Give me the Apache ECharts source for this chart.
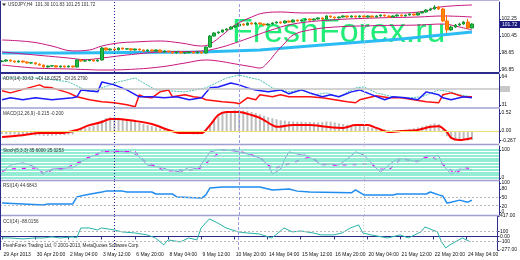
<!DOCTYPE html>
<html><head><meta charset="utf-8">
<script src="https://cdn.jsdelivr.net/npm/echarts@6/dist/echarts.min.js"></script>
<style>html,body{margin:0;padding:0;background:#fff}#c{width:520px;height:260px}</style>
</head><body><div id="c"></div>
<script>
const xTickLabels = ['29 Apr 2013','30 Apr 20:00','2 May 04:00','3 May 12:00','6 May 20:00','8 May 04:00','9 May 12:00','10 May 20:00','14 May 04:00','15 May 12:00','16 May 20:00','20 May 04:00','21 May 12:00','22 May 20:00','24 May 04:00'];
// [open, close, low, high]
const ohlc = [
[97.75,97.80,97.68,97.88],[97.80,97.91,97.74,97.98],[97.91,97.80,97.73,97.95],[97.80,97.70,97.62,97.84],[97.70,97.80,97.66,97.86],
[97.80,97.70,97.63,97.85],[97.70,97.59,97.52,97.74],[97.59,97.62,97.50,97.70],[97.62,97.49,97.42,97.66],[97.49,97.38,97.30,97.55],
[97.38,97.17,97.10,97.42],[97.17,97.27,97.12,97.33],[97.27,97.30,97.20,97.38],[97.30,97.17,97.11,97.35],[97.17,97.27,97.12,97.33],
[97.27,97.17,97.10,97.31],[97.17,97.27,97.13,97.34],[97.27,97.17,97.10,97.30],[97.17,97.91,97.12,98.00],[97.91,97.80,97.72,97.98],
[97.80,97.84,97.74,97.92],[97.84,97.91,97.78,97.98],[97.91,97.80,97.73,97.96],[97.80,97.91,97.75,97.97],[97.91,99.18,97.86,99.30],
[99.18,98.97,98.90,99.25],[98.97,99.07,98.92,99.15],[99.07,98.97,98.90,99.12],[98.97,99.18,98.93,99.25],[99.18,99.07,99.00,99.23],
[99.07,99.10,99.00,99.17],[99.10,98.97,98.90,99.15],[98.97,99.07,98.92,99.13],[99.07,98.97,98.90,99.11],[98.97,98.86,98.78,99.02],
[98.86,98.97,98.81,99.03],[98.97,98.86,98.79,99.01],[98.86,98.97,98.82,99.03],[98.97,98.76,98.69,99.01],[98.76,98.86,98.71,98.92],
[98.86,98.76,98.69,98.90],[98.76,98.65,98.58,98.80],[98.65,98.76,98.60,98.82],[98.76,98.65,98.58,98.80],[98.65,98.68,98.58,98.75],
[98.68,98.76,98.62,98.82],[98.76,98.65,98.58,98.80],[98.65,98.76,98.60,98.82],[98.76,98.65,98.58,98.80],[98.65,99.28,98.60,99.35],
[99.28,100.45,99.22,100.55],[100.45,100.77,100.38,100.85],[100.77,100.87,100.70,100.95],[100.87,101.09,100.80,101.15],[101.09,101.19,101.02,101.27],
[101.19,101.40,101.12,101.47],[101.40,101.51,101.33,101.58],[101.51,101.72,101.45,101.80],[101.72,101.61,101.54,101.78],[101.61,101.83,101.55,101.90],
[101.83,101.72,101.65,101.88],[101.72,101.83,101.66,101.90],[101.83,101.72,101.65,101.88],[101.72,101.61,101.54,101.77],[101.61,101.72,101.56,101.79],
[101.72,101.83,101.66,101.90],[101.83,101.93,101.77,102.00],[101.93,101.83,101.76,101.98],[101.83,102.04,101.78,102.10],[102.04,101.93,101.86,102.09],
[101.93,102.14,101.88,102.21],[102.14,102.04,101.97,102.19],[102.04,102.14,101.98,102.21],[102.14,102.25,102.08,102.32],[102.25,102.14,102.07,102.30],
[102.14,102.25,102.09,102.31],[102.25,102.36,102.19,102.42],[102.36,102.25,102.18,102.41],[102.25,102.57,102.20,102.64],[102.57,102.46,102.39,102.62],
[102.46,102.36,102.29,102.51],[102.36,102.46,102.31,102.52],[102.46,102.57,102.40,102.63],[102.57,102.46,102.39,102.62],[102.46,102.57,102.41,102.63],
[102.57,102.46,102.40,102.61],[102.46,102.57,102.40,102.64],[102.57,102.46,102.39,102.62],[102.46,102.57,102.41,102.63],[102.57,102.46,102.40,102.61],
[102.46,102.57,102.41,102.64],[102.57,102.67,102.51,102.74],[102.67,102.57,102.50,102.72],[102.57,102.46,102.39,102.62],[102.46,102.57,102.41,102.63],
[102.57,102.67,102.50,102.74],[102.67,102.57,102.50,102.72],[102.57,102.67,102.51,102.73],[102.67,102.78,102.61,102.85],[102.78,102.67,102.60,102.83],
[102.67,102.89,102.62,102.96],[102.89,102.99,102.83,103.08],[102.99,103.20,102.93,103.30],[103.20,103.31,103.12,103.45],[103.31,103.52,103.25,103.70],
[103.52,103.31,103.20,103.60],[103.31,102.04,101.93,103.45],[102.04,101.09,100.77,102.67],[101.09,101.40,101.00,101.55],[101.40,101.61,101.30,101.72],
[101.61,101.72,101.50,101.85],[101.72,101.93,101.65,102.04],[101.93,101.30,101.20,102.25],[101.30,101.72,101.25,101.80]
];
const bbUpper = [[0,100.03],[7,99.82],[12,99.39],[17,98.87],[21,98.97],[24,99.39],[28,99.71],[32,99.82],[38,99.92],[43,99.71],[48,99.39],[50,99.60],[53,100.56],[56,101.61],[60,102.46],[63,102.89],[67,102.99],[72,102.89],[79,102.89],[86,102.99],[96,102.89],[102,103.10],[104,103.42],[108,103.63],[113,103.73]];
const bbMiddle = [[0,98.76],[8,98.44],[16,98.12],[20,97.95],[24,98.12],[30,98.44],[38,98.76],[48,98.86],[52,99.18],[56,99.71],[60,100.34],[64,100.98],[70,101.72],[79,102.14],[90,102.36],[100,102.46],[106,102.57],[113,102.46]];
const bbLower = [[0,97.38],[8,97.06],[16,96.96],[20,96.90],[24,96.85],[30,96.90],[38,97.17],[44,97.59],[49,97.91],[52,97.80],[56,97.50],[60,97.20],[62,97.06],[64,97.70],[66,98.76],[68,99.70],[70,100.56],[74,101.09],[80,101.40],[90,101.55],[100,101.61],[106,101.72],[110,101.40],[113,101.09]];
const trendMA = [[0,98.65],[15,98.65],[30,98.70],[48,98.76],[62,98.97],[77,99.50],[96,100.14],[113,100.87]];
const priceTicks = [102.25, 100.45, 98.65, 96.85];

const adxMinusDI = [[0,47.7],[2,45.3],[9,54.7],[10,52.3],[12,51.2],[16,45.3],[18,40.7],[21,37.2],[24,34.8],[27,33.7],[30,31.3],[32,29.0],[33,43.0],[34,40.7],[36,39.5],[38,46.5],[40,48.8],[41,40.7],[44,43.0],[46,40.7],[48,39.5],[49,37.2],[53,34.8],[56,33.7],[57,32.5],[59,39.5],[61,37.2],[62,43.0],[65,40.7],[67,43.0],[69,40.7],[74,40.7],[77,39.5],[80,37.2],[83,34.8],[85,33.7],[86,37.2],[89,40.7],[90,41.8],[93,39.5],[96,39.5],[99,37.2],[102,34.8],[105,33.7],[106,43.0],[108,45.3],[111,40.7],[113,40.7]];
const adxPlusDI = [[0,37.2],[2,39.5],[5,37.2],[8,39.5],[12,37.2],[17,39.5],[18,40.7],[19,48.8],[23,46.5],[24,58.2],[27,54.7],[30,48.8],[33,40.7],[36,40.7],[39,39.5],[42,40.7],[45,37.2],[48,39.5],[50,51.2],[52,52.3],[55,57.0],[57,54.7],[59,51.2],[61,48.8],[64,46.5],[67,48.8],[69,44.2],[72,48.8],[74,45.3],[77,40.7],[79,43.0],[81,40.7],[84,46.5],[86,48.8],[89,43.0],[92,37.2],[94,40.7],[97,39.5],[100,37.2],[102,46.5],[105,43.0],[106,39.5],[108,37.2],[111,40.7],[113,39.5]];
const adxMain = [[0,62.8],[5,62.8],[9,62.8],[16,58.2],[21,46.5],[24,51.2],[28,58.2],[32,62.8],[34,57.0],[37,48.8],[44,46.5],[49,51.2],[54,62.8],[57,66.3],[60,62.8],[62,60.5],[65,51.2],[69,46.5],[72,48.8],[75,43.0],[78,45.3],[81,40.7],[85,51.2],[87,52.3],[90,45.3],[94,40.7],[98,39.5],[101,40.7],[105,48.8],[108,46.5],[110,43.0],[113,40.7]];
const adxTicks = [64, 50, 31];

const macdHist = [-0.08,-0.09,-0.1,-0.1,-0.11,-0.11,-0.12,-0.12,-0.13,-0.13,-0.14,-0.14,-0.13,-0.13,-0.12,-0.12,-0.11,-0.1,0.03,0.06,0.08,0.12,0.15,0.2,0.32,0.37,0.4,0.4,0.38,0.36,0.33,0.3,0.27,0.24,0.2,0.17,0.14,0.11,0.07,0.04,0.01,-0.03,-0.05,-0.07,-0.08,-0.09,-0.1,-0.1,-0.09,-0.02,0.15,0.3,0.42,0.5,0.55,0.58,0.6,0.6,0.59,0.58,0.55,0.52,0.48,0.44,0.4,0.37,0.34,0.31,0.3,0.28,0.28,0.27,0.27,0.26,0.26,0.25,0.25,0.26,0.28,0.27,0.25,0.22,0.2,0.18,0.17,0.17,0.16,0.14,0.12,0.1,0.08,0.07,0.05,0.03,0.02,0.02,0.03,0.04,0.06,0.08,0.1,0.13,0.16,0.19,0.22,0.2,0.05,-0.15,-0.22,-0.25,-0.26,-0.25,-0.27,-0.26];
const macdSignal = [[0,-0.17],[5,-0.12],[9,-0.06],[14,-0.06],[18,0.03],[21,0.17],[24,0.26],[26,0.35],[28,0.35],[32,0.29],[36,0.2],[40,0.03],[43,-0.06],[46,-0.06],[48,-0.06],[50,0.17],[52,0.46],[54,0.55],[57,0.55],[60,0.46],[62,0.38],[65,0.17],[66,0.12],[70,0.17],[74,0.17],[78,0.12],[82,0.09],[85,0.17],[88,0.17],[90,0.09],[93,-0.03],[96,0],[100,0.03],[103,0.12],[105,0.14],[107,-0.03],[108,-0.2],[110,-0.26],[113,-0.2]];
const macdTicks = [0.52, 0, -0.267];

const stochMain = [[0,21],[2,46],[5,54],[6,50],[8,39],[10,18],[12,32],[16,36],[17,36],[19,57],[21,75],[23,82],[24,96],[26,96],[31,93],[33,75],[35,46],[38,39],[40,29],[43,21],[45,39],[47,32],[48,50],[50,93],[52,100],[54,100],[57,93],[60,82],[62,71],[64,46],[65,14],[67,32],[68,68],[69,93],[72,82],[73,82],[75,64],[77,46],[79,50],[81,46],[83,68],[85,93],[87,82],[89,50],[91,21],[93,46],[95,68],[97,68],[100,57],[102,79],[105,79],[106,46],[108,14],[110,32],[113,29]];
const stochSignal = [[0,25],[2,32],[8,36],[10,14],[12,29],[15,32],[20,68],[24,93],[27,96],[32,93],[34,64],[39,25],[43,29],[47,29],[53,100],[56,100],[60,82],[62,71],[63,61],[65,32],[74,75],[77,50],[79,46],[89,50],[90,32],[93,29],[96,71],[99,57],[103,79],[107,39],[109,14],[111,39],[113,32]];
const stochLevels = [0,10,20,30,40,50,60,70,80,90,100];
const stochTicks = [100, 0];

const rsiLine = [[0,31],[10,24],[11,28],[17,28],[18,52],[20,59],[24,69],[25,72],[29,72],[30,69],[36,69],[37,62],[41,62],[42,52],[48,48],[49,59],[50,83],[53,86],[62,86],[65,76],[69,79],[71,72],[74,69],[84,66],[85,76],[87,59],[94,59],[95,62],[102,62],[103,69],[105,59],[106,55],[107,31],[108,34],[110,41],[112,34],[113,41]];
const rsiTicks = [100, 80, 50, 20, 0];
const rsiLevels = [50, 25];

const cciLine = [[0,-31],[2,-31],[5,-51],[8,-31],[10,-31],[12,-10],[14,-31],[17,-10],[18,-31],[19,173],[21,173],[23,133],[24,173],[27,133],[29,92],[32,71],[35,31],[37,-31],[39,-173],[40,-71],[43,-112],[45,-31],[47,-71],[48,173],[50,357],[52,276],[54,173],[57,92],[59,71],[62,51],[65,-31],[66,31],[68,173],[70,92],[72,112],[75,71],[77,31],[80,31],[82,71],[84,173],[86,235],[87,71],[89,31],[93,-31],[96,31],[98,-31],[101,92],[102,194],[105,92],[106,-112],[107,-235],[108,-173],[111,-31],[113,-112]];
const cciTicks = [417, 100, 0, -100, -277];
const cciLevels = [100, -100];

const paneTitles = ['USDJPY,H4  101.30 101.83 101.25 101.72','ADX(14) 30.63  +DI 18.0525  -DI 26.2790','MACD(12,26,9) -0.215 -0.200','Stoch(5,3,3) 35.6000 25.3253','RSI(14) 44.6843','CCI(14) -88.0156'];
const copyright = 'FreshForex Trading Ltd, \u00a9 2001-2013, MetaQuotes Software Corp.';
const watermark = 'FreshForex.ru';
const lastPrice = '101.72';
const weekSeparators = [27, 57, 87];

const N = 120;
const cats = Array.from({length: N}, (_, i) => i);
const panes = [
  {top: 2, height: 70, min: 96.64, max: 104.05, ticks: priceTicks, fmt: v => v.toFixed(2)},
  {top: 74, height: 33, min: 28.7, max: 67.5, ticks: adxTicks, fmt: v => String(v)},
  {top: 109, height: 34, min: -0.347, max: 0.636, ticks: macdTicks, fmt: v => v === 0 ? '0.00' : String(v)},
  {top: 146, height: 34, min: -7, max: 114, ticks: stochTicks, fmt: v => String(v)},
  {top: 181, height: 34, min: -10.3, max: 106.9, ticks: rsiTicks, fmt: v => String(v)},
  {top: 216, height: 34, min: -277, max: 417, ticks: cciTicks, fmt: v => v === 0 ? '0.00' : (v === 417 || v === -277 ? v.toFixed(2) : String(v))}
];
const NAVY = '#2b2b8c';
const FONT = '"Liberation Sans", Arial, sans-serif';
const FS = 5;
const grid = panes.map(p => ({left: -1, width: 500, top: p.top, height: p.height, show: false}));
const xAxis = panes.map((p, k) => ({
  type: 'category', gridIndex: k, data: cats, boundaryGap: true,
  axisLine: {show: k === 5, lineStyle: {color: NAVY, width: 1}},
  axisTick: {show: k === 5, interval: (i) => i % 8 === 0, alignWithLabel: true, length: 3, lineStyle: {color: NAVY}},
  axisLabel: {show: k === 5, interval: (i) => i % 8 === 0, formatter: (v, i) => xTickLabels[i / 8] || '', align: 'left', fontSize: FS, color: '#111', margin: 2.5, fontFamily: FONT, padding: [0, 0, 0, 1.5], showMinLabel: true, hideOverlap: false},
  splitLine: {show: false}
}));
const yAxis = panes.map((p, k) => ({
  type: 'value', gridIndex: k, position: 'right', min: p.min, max: p.max, scale: true,
  axisLine: {show: true, lineStyle: {color: NAVY, width: 1}},
  axisTick: {show: true, customValues: p.ticks, length: 2, inside: false, lineStyle: {color: NAVY}},
  axisLabel: {show: true, customValues: p.ticks, formatter: p.fmt, fontSize: FS, color: '#111', margin: 2.5, fontFamily: FONT, hideOverlap: false},
  splitLine: {show: false}
}));
const sepLines = (k) => ({
  symbol: ['none', 'none'], silent: true, label: {show: false},
  data: [
    {xAxis: weekSeparators[0], lineStyle: {color: '#1a1aa0', type: [1, 2], width: 1}},
    {xAxis: weekSeparators[1], lineStyle: {color: '#9a9ae6', type: [3, 2], width: 1}},
    {xAxis: weekSeparators[2], lineStyle: {color: '#c8c8c8', type: [1, 2], width: 1}}
  ]
});
const ln = (k, data, color, width, extra) => Object.assign({
  type: 'line', xAxisIndex: k, yAxisIndex: k, data, showSymbol: false, symbol: 'none', silent: true,
  lineStyle: {color, width}, itemStyle: {color}, animation: false
}, extra || {});
const hLevels = (vals, color, type, width) => ({
  symbol: ['none', 'none'], silent: true, label: {show: false},
  data: vals.map(v => ({yAxis: v})), lineStyle: {color, type, width}
});

const series = [
  {type: 'candlestick', xAxisIndex: 0, yAxisIndex: 0, data: ohlc, barWidth: 3, silent: true, animation: false, z: 3,
   itemStyle: {color: '#22bb44', color0: '#ff8800', borderColor: '#12952f', borderColor0: '#ff7000', borderWidth: 1},
   markLine: sepLines(0)},
  ln(0, trendMA, '#2cbcf4', 3, {z: 2}),
  ln(0, bbUpper, '#c8157f', 1, {smooth: 0.4}),
  ln(0, bbMiddle, '#c8157f', 1, {smooth: 0.4}),
  ln(0, bbLower, '#c8157f', 1, {smooth: 0.4}),
  ln(1, adxMain, '#48c0b0', 1, {lineStyle: {color: '#48c0b0', width: 1, type: [2, 1]}, markLine: sepLines(1)}),
  ln(1, adxMinusDI, '#ff1010', 1.5, {markLine: hLevels([50], '#c4c4c4', 'solid', 1.5)}),
  ln(1, adxPlusDI, '#1c1cff', 1.5),
  {type: 'bar', xAxisIndex: 2, yAxisIndex: 2, data: macdHist, barWidth: 2, silent: true, animation: false,
   itemStyle: {color: '#bdbdbd'}, markLine: sepLines(2)},
  ln(2, macdSignal, '#ff0000', 2, {smooth: 0.3, markLine: hLevels([0], '#eee070', 'solid', 1)}),
  ln(3, stochMain, 'rgba(0,0,0,0)', 0, {z: 1, markLine: hLevels(stochLevels, '#70e6c6', 'solid', 1.7)}),
  ln(3, stochMain, '#a97ee0', 1, {z: 3, markLine: sepLines(3)}),
  ln(3, stochSignal, '#ff00ff', 1.5, {z: 4, lineStyle: {color: '#ff00ff', width: 1.5, type: [4, 6]}}),
  ln(4, rsiLine, '#1e8cf0', 1.5, {markLine: hLevels(rsiLevels, '#b8b8b8', [2, 2], 1)}),
  ln(4, rsiLine, 'rgba(0,0,0,0)', 0, {markLine: sepLines(4)}),
  ln(5, cciLine, '#28b4a8', 1, {markLine: hLevels(cciLevels, '#b8b8b8', [2, 2], 1)}),
  ln(5, cciLine, 'rgba(0,0,0,0)', 0, {markLine: sepLines(5)})
];

const T = (x, y, s, fill) => ({type: 'text', z: 12, silent: true, left: x, top: y, style: {text: s, fill: fill || '#333', font: '4.6px ' + FONT}});
const graphic = [
  {type: 'text', left: 232, top: 16, z: 0, silent: true, style: {text: watermark, fill: '#22ec78', font: '34px ' + FONT}},
  {type: 'line', z: 10, silent: true, shape: {x1: 0, y1: 73, x2: 499, y2: 73}, style: {stroke: NAVY, lineWidth: 2}},
  {type: 'line', z: 10, silent: true, shape: {x1: 0, y1: 108, x2: 499, y2: 108}, style: {stroke: '#a0a0d0', lineWidth: 1.5}},
  {type: 'line', z: 10, silent: true, shape: {x1: 0, y1: 144.5, x2: 499, y2: 144.5}, style: {stroke: '#a0a0d0', lineWidth: 1.5}},
  {type: 'line', z: 10, silent: true, shape: {x1: 0, y1: 180.5, x2: 499, y2: 180.5}, style: {stroke: '#a0a0d0', lineWidth: 1.5}},
  {type: 'line', z: 10, silent: true, shape: {x1: 0, y1: 215.5, x2: 499, y2: 215.5}, style: {stroke: '#a0a0d0', lineWidth: 1.5}},
  {type: 'line', z: 10, silent: true, shape: {x1: 0.5, y1: 0, x2: 0.5, y2: 250}, style: {stroke: NAVY, lineWidth: 1}},
  {type: 'line', z: 10, silent: true, shape: {x1: 0, y1: 0.5, x2: 499, y2: 0.5}, style: {stroke: '#b0b0d8', lineWidth: 1}},
  {type: 'rect', z: 11, silent: true, shape: {x: 500, y: 21, width: 20, height: 7}, style: {fill: '#1c1c80'}},
  {type: 'text', z: 12, silent: true, left: 502, top: 22, style: {text: lastPrice, fill: '#fff', font: FS + 'px ' + FONT}},
  {type: 'rect', z: 11, silent: true, shape: {x: 500, y: 86, width: 10, height: 6}, style: {fill: '#c8c8c8'}},
  {type: 'polygon', z: 12, silent: true, shape: {points: [[2, 3.5], [6, 3.5], [4, 6]]}, style: {fill: '#333'}},
  T(8, 2.5, paneTitles[0]),
  T(3, 76, paneTitles[1]),
  T(3, 111, paneTitles[2]),
  T(3, 148, paneTitles[3]),
  T(3, 183, paneTitles[4]),
  T(3, 219, paneTitles[5]),
  T(3, 243, copyright, '#222')
];

const chart = echarts.init(document.getElementById('c'), null, {renderer: 'canvas'});
chart.setOption({animation: false, backgroundColor: '#ffffff', grid, xAxis, yAxis, series, graphic});
</script></body></html>
